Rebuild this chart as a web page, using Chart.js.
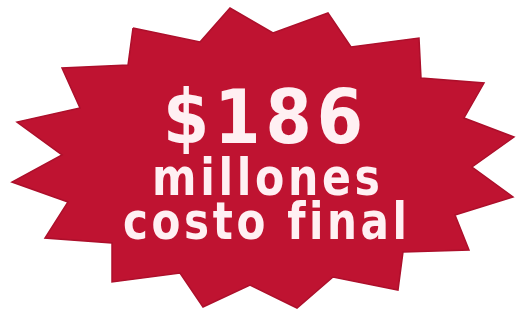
<!DOCTYPE html>
<html lang="es">
<head>
    <meta charset="UTF-8">
    <title>$186 millones costo final</title>
    <style>
        html, body {
            margin: 0;
            padding: 0;
            background: #ffffff;
        }
        #starChart {
            display: block;
        }
    </style>
</head>
<body>
    <canvas id="starChart" width="516" height="309"></canvas>

    <script src="https://cdn.jsdelivr.net/npm/chart.js"></script>
    <script>
        // Star outline (tips and notches), clockwise from the top-left tip
        const starX = [133, 200, 230, 273, 328, 351, 419, 421, 484, 464, 514, 472, 513, 455, 469, 403,
                       398, 333, 297, 250, 203, 180, 112, 112, 45, 68, 12, 62, 17, 80, 62, 128, 133];
        const starY = [28, 42, 8, 33, 13, 47, 38, 78, 83, 118, 137, 167, 197, 215, 250, 252,
                       290, 277, 308, 285, 307, 273, 282, 243, 238, 202, 182, 155, 122, 108, 68, 65, 28];

        // Text lines inside the star
        const textLines = ['$186', 'millones', 'costo final'];

        const points = starX.map((x, i) => ({ x: x, y: starY[i] }));

        // Draws the white lettering on top of the star
        const labelPlugin = {
            id: 'starLabel',
            afterDatasetsDraw(chart) {
                const ctx = chart.ctx;
                const xs = chart.scales.x;
                const ys = chart.scales.y;
                const layout = [
                    { cx: 263, w: 200, base: 143, size: 74, gap: 5 },
                    { cx: 266, w: 228, base: 195, size: 52, gap: 4 },
                    { cx: 265, w: 284, base: 239, size: 52, gap: 4 }
                ];
                ctx.save();
                ctx.fillStyle = '#fff0f3';
                ctx.textBaseline = 'alphabetic';
                ctx.textAlign = 'left';
                textLines.forEach((txt, i) => {
                    const l = layout[i];
                    ctx.font = 'bold ' + l.size + 'px "Liberation Sans Narrow", "DejaVu Sans Condensed", Arial, sans-serif';
                    ctx.letterSpacing = l.gap + 'px';
                    const m = ctx.measureText(txt);
                    const w = m.width - l.gap; // drop trailing spacing
                    const left = xs.getPixelForValue(l.cx - l.w / 2);
                    const sx = (xs.getPixelForValue(l.cx + l.w / 2) - left) / w;
                    ctx.save();
                    ctx.translate(left, ys.getPixelForValue(l.base));
                    ctx.scale(sx, 1);
                    ctx.fillText(txt, 0, 0);
                    ctx.restore();
                });
                ctx.restore();
            }
        };

        new Chart(document.getElementById('starChart'), {
            type: 'scatter',
            data: {
                datasets: [{
                    data: points,
                    showLine: true,
                    fill: 'shape',
                    backgroundColor: '#bf1331',
                    borderColor: '#ad0f2b',
                    borderWidth: 1.5,
                    pointRadius: 0,
                    tension: 0
                }]
            },
            options: {
                responsive: false,
                animation: false,
                layout: { padding: 0 },
                plugins: {
                    legend: { display: false },
                    tooltip: { enabled: false }
                },
                scales: {
                    x: { type: 'linear', min: 0, max: 516, display: false },
                    y: { type: 'linear', min: 0, max: 309, reverse: true, display: false }
                }
            },
            plugins: [labelPlugin]
        });
    </script>
</body>
</html>
